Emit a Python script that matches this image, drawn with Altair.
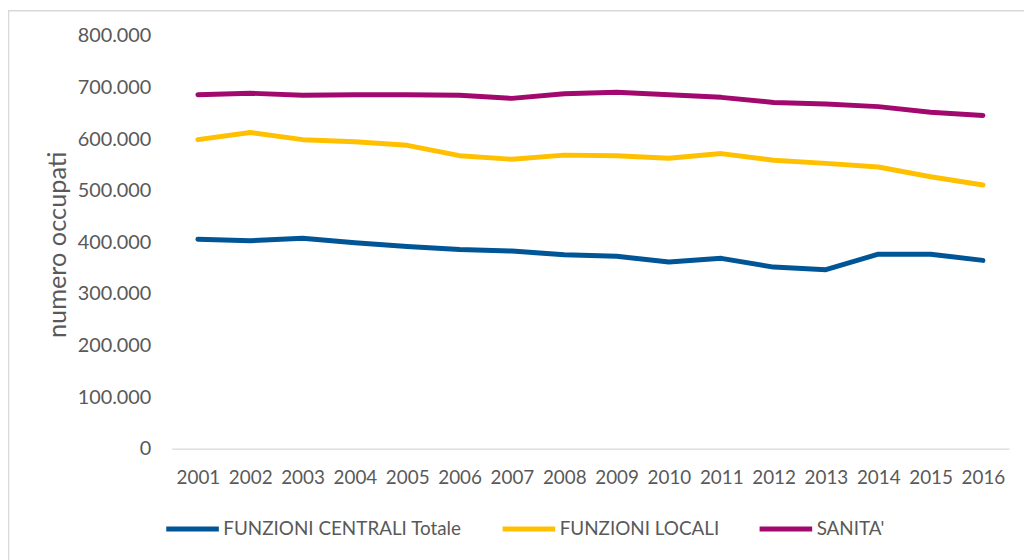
import altair as alt
import pandas as pd

years = [str(y) for y in range(2001, 2017)]
series_names = ["FUNZIONI CENTRALI Totale", "FUNZIONI LOCALI", "SANITA'"]
centrali = [406000, 403000, 408000, 399000, 392000, 386000, 383000, 376000,
            373000, 362000, 369000, 352000, 347000, 377000, 377000, 365000]
locali = [599000, 613000, 599000, 595000, 588000, 568000, 561000, 569000,
          568000, 563000, 572000, 559000, 553000, 546000, 527000, 511000]
sanita = [686000, 689000, 685000, 686000, 686000, 685000, 679000, 688000,
          691000, 686000, 681000, 671000, 668000, 663000, 652000, 646000]
colors = ["#005596", "#FFC000", "#A2096F"]

rows = []
for name, vals in zip(series_names, [centrali, locali, sanita]):
    for y, v in zip(years, vals):
        rows.append({"anno": y, "serie": name, "valore": v})
df = pd.DataFrame(rows)

TXT = "#595959"
FONT = "Lato"

lines = alt.Chart(df).mark_line(strokeWidth=5, strokeCap="round", strokeJoin="round").encode(
    x=alt.X("anno:O", sort=years,
            scale=alt.Scale(type="point", padding=0.5),
            axis=alt.Axis(title=None, labelAngle=0, ticks=False, domain=True,
                          domainColor="#d9d9d9", domainWidth=1.2,
                          labelPadding=20, labelFontSize=19, labelColor=TXT,
                          labelFont=FONT, grid=False)),
    y=alt.Y("valore:Q",
            scale=alt.Scale(domain=[0, 800000], nice=False),
            axis=alt.Axis(title="numero occupati", values=list(range(0, 800001, 100000)),
                          labelExpr="replace(format(datum.value, ','), ',', '.')",
                          ticks=False, domain=False, grid=False,
                          labelPadding=21, labelFontSize=20, labelColor=TXT, labelFont=FONT,
                          titleFontSize=25.5, titleColor=TXT, titleFont=FONT, titleFontWeight="normal",
                          titleX=-115, titleY=210, titleAngle=270,
                          titleAlign="center", titleBaseline="middle")),
    color=alt.Color("serie:N",
                    scale=alt.Scale(domain=series_names, range=colors),
                    legend=alt.Legend(title=None, orient="none", direction="horizontal",
                                      legendX=-8, legendY=468,
                                      symbolType="stroke", symbolSize=2809,
                                      symbolStrokeWidth=5, labelOffset=2,
                                      columnPadding=30, labelFontSize=19, labelLimit=0,
                                      labelColor=TXT, labelFont=FONT)),
)

frame = alt.Chart(pd.DataFrame({"a": [0]})).mark_rect(
    filled=False, stroke="#d9d9d9", strokeWidth=1.5
).encode(
    x=alt.value(-164.5), x2=alt.value(880),
    y=alt.value(-25.5), y2=alt.value(560),
)

chart = alt.layer(frame, lines).properties(
    width=844, height=416,
    autosize=alt.AutoSizeParams(type="none"),
    padding={"left": 165, "top": 26, "right": 15, "bottom": 110},
    background="white",
).configure_view(stroke=None)

chart.save("out.html", embed_options={"renderer": "svg", "actions": False})
